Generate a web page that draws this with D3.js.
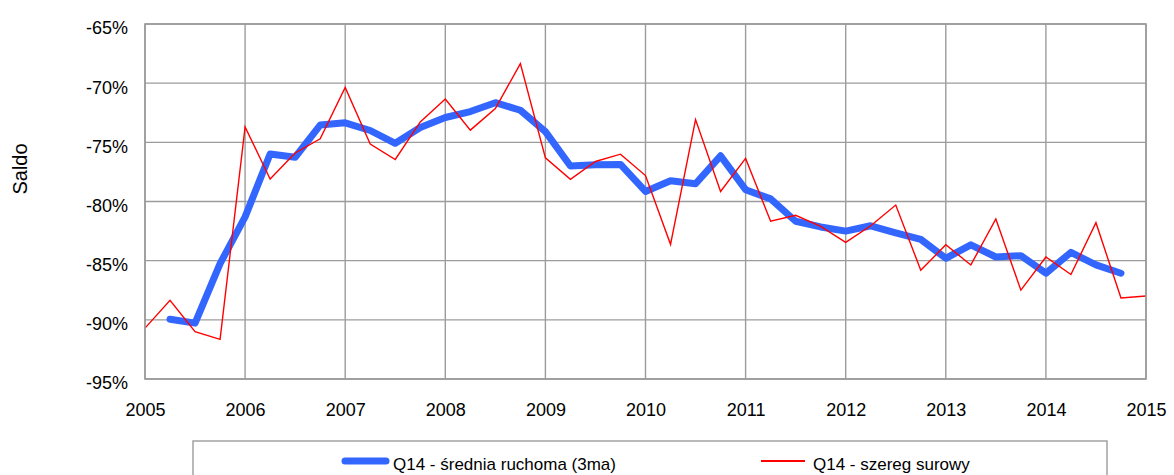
<!DOCTYPE html>
<html>
<head>
<meta charset="utf-8">
<script src="https://cdn.jsdelivr.net/npm/d3@7/dist/d3.min.js"></script>
<style>
  html, body { margin: 0; padding: 0; background: #fff; }
  svg { display: block; }
  text { font-family: "Liberation Sans", Arial, sans-serif; fill: #000; }
</style>
</head>
<body>
<svg id="chart" width="1174" height="475"></svg>
<script>
// Quarterly balance (saldo) of answers to Q14, in percent.
// Raw series: 2005 Q1 … 2015 Q1.
const rawStart = 2005.0;
const rawValues = [
  -90.7, -88.35, -91.0, -91.65,
  -73.7, -78.1, -75.9, -74.7,
  -70.36, -75.15, -76.45, -73.27,
  -71.34, -73.97, -72.15, -68.35,
  -76.31, -78.13, -76.62, -76.0,
  -77.81, -83.62, -73.08, -79.15,
  -76.36, -81.67, -81.17, -82.1,
  -83.45, -82.05, -80.3, -85.81,
  -83.66, -85.36, -81.48, -87.49,
  -84.69, -86.17, -81.79, -88.16,
  -87.99
];

// 3-quarter moving average: 2005 Q2 … 2014 Q4.
const avgStart = 2005.25;
const avgValues = [
  -89.95, -90.28, -85.25,
  -81.3, -75.98, -76.26, -73.54,
  -73.35, -74.0, -75.08, -73.74,
  -72.9, -72.4, -71.65, -72.29,
  -74.1, -77.0, -76.9, -76.87,
  -79.15, -78.25, -78.5, -76.14,
  -79.0, -79.78, -81.67, -82.15,
  -82.5, -82.05, -82.65, -83.2,
  -84.8, -83.66, -84.69, -84.58,
  -86.06, -84.3, -85.36, -86.06
];

const yearTicks = [2005, 2006, 2007, 2008, 2009, 2010, 2011, 2012, 2013, 2014, 2015];
const percentTicks = [-65, -70, -75, -80, -85, -90, -95];

const seriesNames = ["Q14 - średnia ruchoma (3ma)", "Q14 - szereg surowy"];
const axisTitle = "Saldo";

const svg = d3.select("#chart");
const plot = { left: 145, right: 1146, top: 24, bottom: 379 };

const x = d3.scaleLinear().domain([2005, 2015]).range([plot.left, plot.right]);
const y = d3.scaleLinear().domain([-95, -65]).range([plot.bottom, plot.top]);

const gridColor = "#9c9c9c";

// Grid lines
const grid = svg.append("g");
grid.selectAll("line.h").data(percentTicks).join("line")
  .attr("x1", plot.left).attr("x2", plot.right)
  .attr("y1", d => y(d)).attr("y2", d => y(d))
  .attr("stroke", gridColor).attr("stroke-width", 1.4);
grid.selectAll("line.v").data(yearTicks).join("line")
  .attr("x1", d => x(d)).attr("x2", d => x(d))
  .attr("y1", plot.top).attr("y2", plot.bottom)
  .attr("stroke", gridColor).attr("stroke-width", 1.4);

// Y axis labels
const yAxis = d3.axisLeft(y).tickValues(percentTicks).tickSize(0).tickPadding(17)
  .tickFormat(d => d + "%");
svg.append("g").attr("transform", `translate(${plot.left},0)`).call(yAxis)
  .call(g => g.select(".domain").remove())
  .call(g => g.selectAll("text")
    .attr("font-family", "Liberation Sans, Arial, sans-serif")
    .attr("font-size", 18).attr("fill", "#000").attr("dy", "0.55em").attr("y", 0));

// X axis labels
const xAxis = d3.axisBottom(x).tickValues(yearTicks).tickSize(0).tickPadding(0)
  .tickFormat(d3.format("d"));
svg.append("g").attr("transform", `translate(0,${plot.bottom})`).call(xAxis)
  .call(g => g.select(".domain").remove())
  .call(g => g.selectAll("text")
    .attr("font-family", "Liberation Sans, Arial, sans-serif")
    .attr("font-size", 18).attr("fill", "#000").attr("y", 37).attr("dy", 0));

// Axis title
svg.append("text")
  .attr("transform", "translate(27,169) rotate(-90)")
  .attr("text-anchor", "middle")
  .attr("font-size", 20)
  .text(axisTitle);

// Series
const rawPts = rawValues.map((v, i) => [rawStart + i * 0.25, v]);
const avgPts = avgValues.map((v, i) => [avgStart + i * 0.25, v]);
const line = d3.line().x(d => x(d[0])).y(d => y(d[1]));

svg.append("path").datum(avgPts)
  .attr("d", line).attr("fill", "none")
  .attr("stroke", "#3366ff").attr("stroke-width", 7)
  .attr("stroke-linejoin", "round").attr("stroke-linecap", "round");

svg.append("path").datum(rawPts)
  .attr("d", line).attr("fill", "none")
  .attr("stroke", "#ff0000").attr("stroke-width", 1.4)
  .attr("stroke-linejoin", "miter");

// Plot frame
svg.append("rect")
  .attr("x", plot.left).attr("y", plot.top)
  .attr("width", plot.right - plot.left).attr("height", plot.bottom - plot.top)
  .attr("fill", "none").attr("stroke", gridColor).attr("stroke-width", 1.6);

// Legend
const legend = svg.append("g");
legend.append("rect")
  .attr("x", 193).attr("y", 441).attr("width", 914).attr("height", 60)
  .attr("fill", "#fff").attr("stroke", gridColor).attr("stroke-width", 1.4);

legend.append("line")
  .attr("x1", 345).attr("x2", 386).attr("y1", 461).attr("y2", 461)
  .attr("stroke", "#3366ff").attr("stroke-width", 7).attr("stroke-linecap", "round");
legend.append("text")
  .attr("x", 393).attr("y", 470).attr("font-size", 17)
  .text(seriesNames[0]);

legend.append("line")
  .attr("x1", 761).attr("x2", 805).attr("y1", 461).attr("y2", 461)
  .attr("stroke", "#ff0000").attr("stroke-width", 1.8);
legend.append("text")
  .attr("x", 813).attr("y", 470).attr("font-size", 17)
  .text(seriesNames[1]);
</script>
</body>
</html>
